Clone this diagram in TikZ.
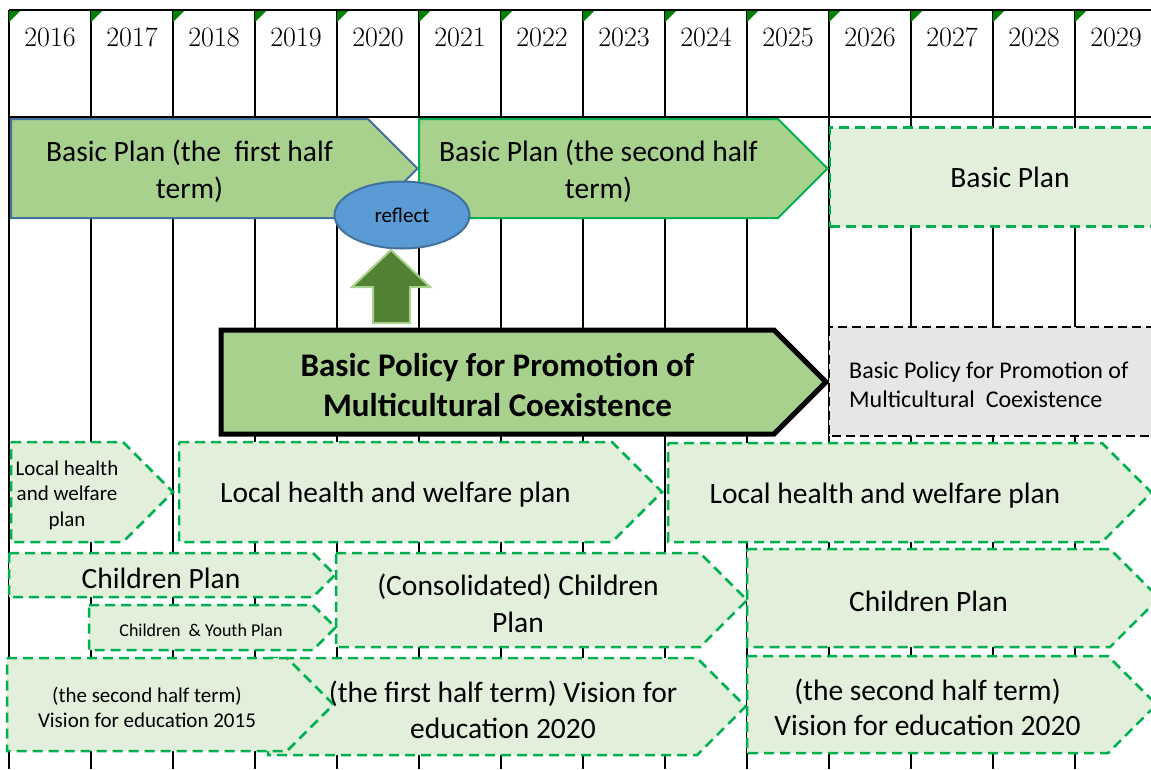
\documentclass[tikz,border=0pt]{standalone}
\usepackage{fontspec}
\newfontfamily\calibri{Carlito}
\usetikzlibrary{positioning, shapes.geometric}
\definecolor{planfill}{HTML}{A9D18E}
\definecolor{planblue}{HTML}{41719C}
\definecolor{plangreen}{HTML}{00B050}
\definecolor{palefill}{HTML}{E2EFDA}
\definecolor{reflectfill}{HTML}{5B9BD5}
\definecolor{pushfill}{HTML}{548235}
\definecolor{nextgray}{HTML}{E7E6E6}
\definecolor{cellmark}{HTML}{008000}
\tikzset{x=1pt, y=-1pt, % one unit is one pixel of the chart, y runs downward
grid line/.style={line width=2pt, black}, % lines of the year table
plan/.style={fill=planfill, line width=2pt}, % the solid plan arrows
later plan/.style={fill=palefill, draw=plangreen, line width=2.5pt, dash pattern=on 10pt off 6pt}, % dashed plans
plantext/.style={font=\calibri, align=center, inner sep=0pt}, % text inside the arrows
year/.style={font=\fontsize{28}{32}\selectfont, inner sep=0pt}, % years in the header
}
% plan arrow: style, name, left, top, end of body, bottom, text style, text
\newcommand{\planarrow}[8]{%
  \draw[#1] (#3,#4) -- (#5,#4) -- ({#5+(#6-#4)/2},{(#4+#6)/2}) -- (#5,#6) -- (#3,#6) -- cycle;
  \node[plantext, #7] (#2) at ({(#3+#5)/2},{(#4+#6)/2+3}) {#8};
}
\newcommand{\fs}[2]{\fontsize{#1}{#2}\selectfont}

\begin{document}
\begin{tikzpicture}
    \useasboundingbox (0,0) rectangle (1151,769);
    \clip (0,0) rectangle (1151,769);
    % year table
    \foreach \yr [count=\c from 0] in {2016,...,2029} {
        \draw[grid line] ({9+82*\c},10) -- ({9+82*\c},769);
        \fill[cellmark] ({9+82*\c},10) -- ++(12,0) -- ++(-12,12) -- cycle;
        \node[year] (y\yr) at ({50+82*\c},37) {\yr};
    }
    \draw[grid line] (9,10) -- (1151,10) (9,117) -- (1151,117);

    % basic plan
    \planarrow{plan, draw=planblue}{firsthalf}{11}{119}{368}{218}{font=\calibri\fs{29.5}{37}}{Basic Plan (the\ \ first half\\term)}
    \planarrow{plan, draw=plangreen}{secondhalf}{419}{119}{778}{218}{font=\calibri\fs{29.5}{37}}{Basic Plan (the second half\\term)}
    \node[later plan, minimum width=360, minimum height=99, font=\calibri\fs{29.5}{34}] (nextplan) at (1010,177) {Basic Plan};
    \node[ellipse, fill=reflectfill, draw=planblue, line width=2pt, minimum width=135, minimum height=67, font=\calibri\fs{21}{25}] (reflect) at (402,215) {reflect};
    \coordinate (pushtip) at (391,250);
    \draw[fill=pushfill, draw=planfill, line width=2pt] (pushtip) -- ++(39,37) -- ++(-20,0) -- ++(0,36) -- ++(-37,0) -- ++(0,-36) -- ++(-21,0) -- cycle;

    % basic policy
    \planarrow{plan, draw=black, line width=5pt}{policy}{221}{330}{774}{434}{font=\calibri\bfseries\fs{33}{40}}{Basic Policy for Promotion of\\Multicultural Coexistence}
    \draw[fill=nextgray, draw=black, line width=2.5pt, dash pattern=on 9pt off 5pt] (829,327) rectangle (1170,436);
    \node[plantext, anchor=west, align=left, font=\calibri\fs{24}{29}] (nextpolicy) at (849,385) {Basic Policy for Promotion of\\Multicultural\ \ Coexistence};

    % local health and welfare plan
    \planarrow{later plan}{welfare1}{11}{442}{123}{542}{font=\calibri\fs{21}{25.5}}{Local health\\and welfare\\plan}
    \planarrow{later plan}{welfare2}{179}{442}{612}{542}{font=\calibri\fs{29.5}{34}}{Local health and welfare plan}
    \planarrow{later plan}{welfare3}{668}{443}{1102}{542}{font=\calibri\fs{29.5}{34}}{Local health and welfare plan}

    % children plan
    \planarrow{later plan}{children1}{9}{553}{313}{597}{font=\calibri\fs{29.5}{34}}{Children Plan}
    \planarrow{later plan}{youth}{89}{605}{313}{650}{font=\calibri\fs{18}{22}}{Children\ \ \& Youth Plan}
    \planarrow{later plan}{children2}{336}{553}{700}{647}{font=\calibri\fs{29.5}{37}}{(Consolidated) Children\\Plan}
    \planarrow{later plan}{children3}{747}{549}{1110}{647}{font=\calibri\fs{29.5}{34}}{Children Plan}

    % vision for education
    \planarrow{later plan}{vision2box}{268}{658}{697}{755}{}{}
    \planarrow{later plan}{vision1}{7}{658}{287}{751}{font=\calibri\fs{21}{25}}{(the second half term)\\Vision for education 2015}
    \node[plantext, font=\calibri\fs{29.5}{36}] (vision2) at (503,709.5) {(the first half term) Vision for\\education 2020};
    \planarrow{later plan}{vision3}{747}{656}{1108}{753}{font=\calibri\fs{29.5}{35}}{(the second half term)\\Vision for education 2020}
\end{tikzpicture}
\end{document}
